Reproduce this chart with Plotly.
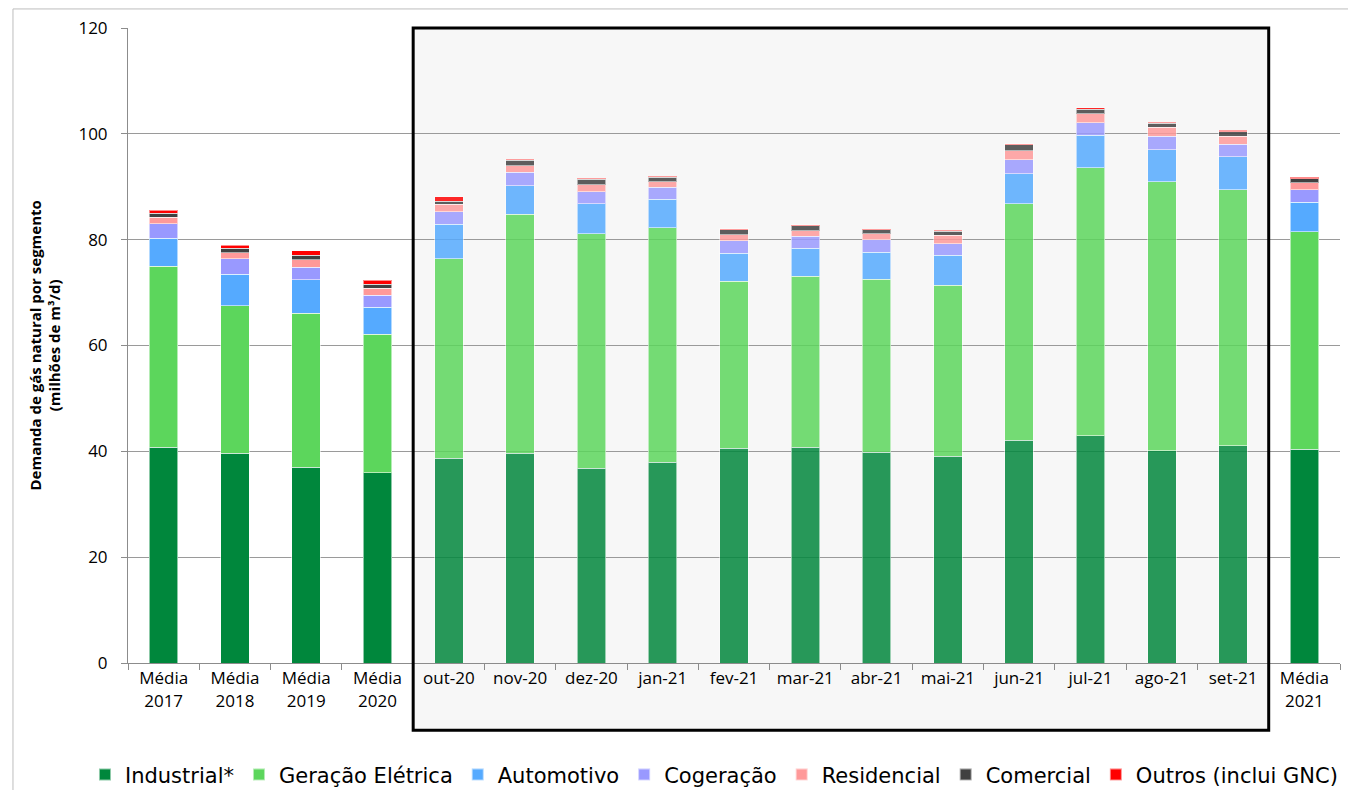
import plotly.graph_objects as go

categories = ["Média<br>2017", "Média<br>2018", "Média<br>2019", "Média<br>2020",
              "out-20", "nov-20", "dez-20", "jan-21", "fev-21", "mar-21", "abr-21",
              "mai-21", "jun-21", "jul-21", "ago-21", "set-21", "Média<br>2021"]

industrial = [40.8, 39.6, 37.0, 36.0, 38.7, 39.6, 36.8, 37.9, 40.6, 40.8, 39.8, 39.1, 42.1, 42.9, 40.1, 41.1, 40.4]
geracao = [34.2, 27.9, 29.1, 26.1, 37.7, 45.2, 44.3, 44.4, 31.5, 32.3, 32.7, 32.3, 44.7, 50.7, 50.8, 48.3, 41.1]
automotivo = [5.3, 6.0, 6.3, 5.1, 6.5, 5.4, 5.7, 5.3, 5.3, 5.3, 5.1, 5.7, 5.7, 6.1, 6.1, 6.3, 5.6]
cogeracao = [2.7, 2.9, 2.4, 2.3, 2.4, 2.5, 2.3, 2.3, 2.4, 2.2, 2.4, 2.1, 2.6, 2.4, 2.5, 2.3, 2.3]
residencial = [1.2, 1.1, 1.4, 1.3, 1.4, 1.3, 1.3, 1.0, 1.1, 1.1, 1.1, 1.6, 1.7, 1.7, 1.7, 1.5, 1.4]
comercial = [0.8, 0.9, 0.9, 0.8, 0.6, 1.0, 1.0, 0.9, 1.0, 0.9, 0.8, 0.8, 1.1, 0.8, 0.8, 0.9, 0.7]
outros = [0.6, 0.5, 0.8, 0.7, 0.8, 0.2, 0.2, 0.2, 0.2, 0.2, 0.1, 0.2, 0.2, 0.3, 0.2, 0.3, 0.3]

series_names = ["Industrial*", "Geração Elétrica", "Automotivo", "Cogeração",
                "Residencial", "Comercial", "Outros (inclui GNC)"]
series_values = [industrial, geracao, automotivo, cogeracao, residencial, comercial, outros]
series_colors = ["#00873C", "#5CD65C", "#55AAFF", "#9999FF", "#FF9999", "#404040", "#FF0000"]

# highlighted (boxed) months: index 4..15
box_first, box_last = 4, 15
opac = [0.84 if box_first <= i <= box_last else 1.0 for i in range(len(categories))]

fig = go.Figure()
for name, vals, col in zip(series_names, series_values, series_colors):
    fig.add_trace(go.Bar(
        x=categories, y=vals, name=name,
        marker=dict(color=col, opacity=opac,
                    line=dict(color="rgba(255,255,255,0.55)", width=1)),
    ))

n = len(categories)
bx0 = (box_first) / n
bx1 = (box_last + 1) / n

W, H = 1340, 782
fig.update_layout(
    barmode="stack",
    bargap=0.6,
    width=W, height=H,
    margin=dict(l=120, r=8, t=20, b=127, autoexpand=False),
    paper_bgcolor="white",
    plot_bgcolor="rgba(0,0,0,0)",
    font=dict(family="Open Sans", size=17, color="black"),
    xaxis=dict(
        showline=True, linecolor="#8c8c8c", linewidth=1,
        ticks="outside", tickson="boundaries", ticklen=6, tickcolor="#8c8c8c",
        tickfont=dict(family="Open Sans", size=17, color="black"),
        showgrid=False, automargin=False,
    ),
    yaxis=dict(
        range=[0, 120], dtick=20,
        showline=True, linecolor="#8c8c8c", linewidth=1,
        ticks="outside", ticklen=6, tickcolor="#8c8c8c",
        gridcolor="#9a9a9a", gridwidth=1,
        tickfont=dict(family="Open Sans", size=17, color="black"),
        ticklabelstandoff=10,
        zeroline=False, automargin=False,
    ),
    legend=dict(
        orientation="h", xref="paper", x=-0.0355, xanchor="left",
        yref="paper", y=-0.176, yanchor="middle",
        font=dict(family="DejaVu Sans", size=21, color="black"),
        traceorder="normal", itemsizing="constant",
        bgcolor="rgba(0,0,0,0)",
    ),
    shapes=[
        # light gray background of highlighted period
        dict(type="rect", xref="paper", yref="paper", x0=bx0, x1=bx1, y0=-0.106, y1=1.0,
             fillcolor="#F7F7F7", line=dict(width=0), layer="below"),
        # black frame
        dict(type="rect", xref="paper", yref="paper", x0=bx0, x1=bx1, y0=-0.106, y1=1.0,
             fillcolor="rgba(0,0,0,0)", line=dict(color="black", width=3), layer="above"),
        # chart area border
        dict(type="rect", xref="paper", yref="paper", x0=-0.0949, x1=1.03, y0=-0.24, y1=1.03,
             fillcolor="rgba(0,0,0,0)", line=dict(color="#bdbdbd", width=1), layer="below"),
    ],
    annotations=[
        dict(xref="paper", yref="paper", x=-0.0693, y=0.5, xanchor="center", yanchor="middle",
             textangle=-90, showarrow=False,
             text="<b>Demanda de gás natural por segmento<br>(milhões de m³/d)</b>",
             font=dict(family="Open Sans", size=15, color="black")),
    ],
)

fig.write_html("out.html")
